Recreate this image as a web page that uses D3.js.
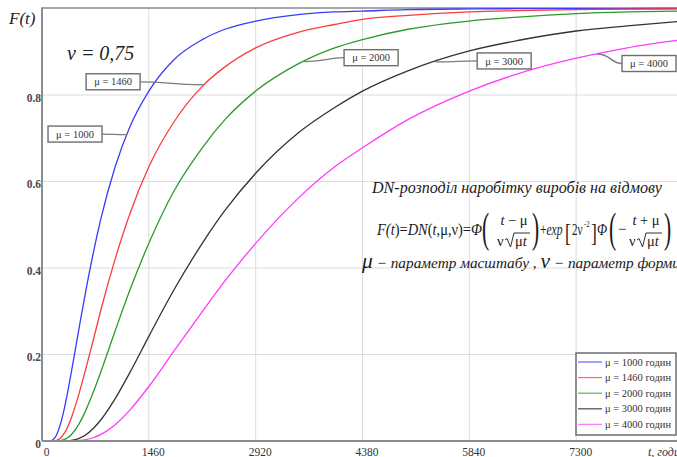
<!DOCTYPE html>
<html><head><meta charset="utf-8">
<script src="https://cdn.jsdelivr.net/npm/d3@7"></script>
<style>
body{margin:0;background:#fff}
svg{display:block}
text{font-family:"Liberation Serif","Times New Roman",serif}
</style>
</head><body>
<svg id="chart" width="677" height="457"></svg>
<script>
// ---- data ----
const hours = [0,100,150,200,250,300,350,400,500,600,700,800,1000,1200,1460,1800,2190,2500,2920,3500,4000,4380,5000,5840,6500,7300,8000,8760];
const muValues = [1000,1460,2000,3000,4000];
const F_mu1000 = [0,0.0001,0.003,0.0146,0.0378,0.0714,0.1125,0.158,0.2547,0.3485,0.434,0.5105,0.634,0.726,0.809,0.881,0.928,0.952,0.971,0.986,0.992,0.994,0.9975,0.999,0.9995,0.9998,0.9999,1.0];
const F_mu1460 = [0,0,0.0002,0.0017,0.0065,0.017,0.032,0.053,0.106,0.168,0.233,0.300,0.421,0.525,0.634,0.737,0.820,0.865,0.909,0.945,0.963,0.975,0.984,0.992,0.995,0.9975,0.9984,0.9992];
const F_mu2000 = [0,0,0,0.0001,0.001,0.003,0.0075,0.0146,0.0378,0.0714,0.1125,0.158,0.2547,0.3485,0.457,0.5768,0.678,0.743,0.809,0.872,0.909,0.928,0.952,0.971,0.980,0.988,0.992,0.994];
const F_mu3000 = [0,0,0,0,0,0.0001,0.0006,0.0015,0.0057,0.0146,0.029,0.048,0.098,0.158,0.242,0.3485,0.457,0.533,0.619,0.712,0.771,0.809,0.856,0.902,0.926,0.948,0.960,0.971];
const F_mu4000 = [0,0,0,0,0,0,0,0.0001,0.001,0.003,0.0075,0.0146,0.0378,0.0714,0.126,0.207,0.299,0.370,0.457,0.561,0.634,0.678,0.743,0.809,0.849,0.885,0.909,0.928];
const legendNames = ["μ = 1000 годин","μ = 1460 годин","μ = 2000 годин","μ = 3000 годин","μ = 4000 годин"];
const labelNames = ["μ = 1000","μ = 1460","μ = 2000","μ = 3000","μ = 4000"];
const labelHours = [1162,2215,3568,5373,7585];
const xTickValues = [0,1460,2920,4380,5840,7300];
const yTickValues = [0,0.2,0.4,0.6,0.8];

// ---- style / layout ----
const colors = ["#3a3aff","#ff3a3a","#2c9a2c","#333333","#ff3aff"];
const legendColors = ["#6f6fff","#ff6f6f","#5cc05c","#555555","#ff7fff"];
const labelOffsets = [[-25,-0.5,"L"],[-64,-3,"L"],[41,-4,"R"],[42,-1,"R"],[25,9.5,"R"]];
const series = [F_mu1000,F_mu1460,F_mu2000,F_mu3000,F_mu4000].map((vals,i)=>({
  mu: muValues[i], color: colors[i],
  points: hours.map((t,j)=>({t, f: vals[j]}))
}));

const svg = d3.select("#chart");
const x = d3.scaleLinear().domain([0,8760]).range([42,683]);
const y = d3.scaleLinear().domain([0,1]).range([441,8.5]);
const pTop = 8, pBottom = 441, pLeft = 42, pRight = 677;

// grid
svg.append("g").selectAll("line").data(xTickValues.slice(1)).join("line")
  .attr("x1",d=>x(d)).attr("x2",d=>x(d)).attr("y1",pTop).attr("y2",pBottom)
  .attr("stroke","#dcdcdc").attr("stroke-width",1);
svg.append("g").selectAll("line").data(yTickValues.slice(1)).join("line")
  .attr("x1",pLeft).attr("x2",pRight).attr("y1",d=>y(d)).attr("y2",d=>y(d))
  .attr("stroke","#dcdcdc").attr("stroke-width",1);

// frame top
svg.append("line").attr("x1",pLeft).attr("x2",pRight).attr("y1",pTop).attr("y2",pTop)
  .attr("stroke","#8a8a8a").attr("stroke-width",1.3);

// clip
svg.append("defs").append("clipPath").attr("id","clip").append("rect")
  .attr("x",pLeft).attr("y",pTop-2).attr("width",pRight-pLeft).attr("height",pBottom-pTop+2);

// curves
const line = d3.line().x(d=>x(d.t)).y(d=>y(d.f)).curve(d3.curveMonotoneX);
svg.append("g").attr("clip-path","url(#clip)").selectAll("path").data(series).join("path")
  .attr("d",d=>line(d.points)).attr("fill","none")
  .attr("stroke",d=>d.color).attr("stroke-width",1.3);

// axes
const xAxis = d3.axisBottom(x).tickValues(xTickValues).tickSize(0).tickPadding(6.5).tickFormat(d3.format("d"));
const gx = svg.append("g").attr("transform",`translate(0,${pBottom})`).call(xAxis);
gx.select(".domain").remove();
gx.selectAll("text").attr("font-family","Liberation Serif, serif").attr("font-size",11.5)
  .attr("fill","#333").attr("dx",4);
const yAxis = d3.axisLeft(y).tickValues(yTickValues).tickSize(0).tickPadding(1).tickFormat(d=>d===0?"0":d3.format(".1f")(d));
const gy = svg.append("g").attr("transform",`translate(${pLeft},0)`).call(yAxis);
gy.select(".domain").remove();
gy.selectAll("text").attr("font-family","Liberation Serif, serif").attr("font-size",11.5)
  .attr("fill","#4a4a4a").attr("font-weight","bold").attr("dy","0.55em");

svg.append("line").attr("x1",pLeft).attr("x2",pRight).attr("y1",pBottom).attr("y2",pBottom)
  .attr("stroke","#8c8c8c").attr("stroke-width",2);
svg.append("line").attr("x1",pLeft).attr("x2",pLeft).attr("y1",pTop-0.6).attr("y2",pBottom)
  .attr("stroke","#8c8c8c").attr("stroke-width",2);

// axis titles
svg.append("text").attr("x",9).attr("y",24).attr("font-size",17).attr("font-style","italic")
  .attr("fill","#222").text("F(t)");
svg.append("text").attr("x",648).attr("y",456).attr("font-size",12).attr("font-style","italic")
  .attr("fill","#333").text("t, годин");
svg.append("text").attr("x",67).attr("y",60).attr("font-size",20).attr("font-style","italic")
  .attr("fill","#222").text("ν = 0,75");

// curve labels
function fAt(s,t){
  const pts = s.points; const i = d3.bisector(d=>d.t).left(pts,t);
  const a = pts[i-1], b = pts[i]; return a.f + (b.f-a.f)*(t-a.t)/(b.t-a.t);
}
const ann = svg.append("g");
labelNames.forEach((name,i)=>{
  const ax = x(labelHours[i]), ay = y(fAt(series[i],labelHours[i]));
  const [dx,dy,side] = labelOffsets[i];
  const bx = ax+dx, by = ay+dy, w = 54, h = 16;
  const mx = bx + (ax-bx)*0.45;
  ann.append("path").attr("d",`M${bx},${by} C${mx},${by} ${mx},${ay} ${ax},${ay}`)
    .attr("fill","none").attr("stroke","#7a7a7a").attr("stroke-width",1.3);
  const rx = side==="L" ? bx-w : bx;
  ann.append("rect").attr("x",rx).attr("y",by-h/2).attr("width",w).attr("height",h)
    .attr("fill","#fff").attr("stroke","#6e6e6e").attr("stroke-width",1.4);
  ann.append("text").attr("x",rx+w/2).attr("y",by+3.6).attr("text-anchor","middle")
    .attr("font-size",10.5).attr("fill","#333").text(name);
});

// formula block
const fb = svg.append("g").attr("fill","#1a1a1a");
fb.append("text").attr("x",372).attr("y",193).attr("font-size",16).attr("font-style","italic")
  .attr("textLength",290).attr("lengthAdjust","spacingAndGlyphs")
  .text("DN-розподіл наробітку виробів на відмову");
const l2 = fb.append("text").attr("transform","translate(377,235) scale(0.85,1)").attr("font-size",17);
[["F(","i"],["t","i"],[")=","n"],["DN","i"],["(","n"],["t","i"],[",μ,ν)=","n"],["Φ","i"]]
  .forEach(([s,st])=>l2.append("tspan").attr("font-style",st==="i"?"italic":"normal").text(s));
function bigParen(xp, ch){
  fb.append("text").attr("transform",`translate(${xp},242) scale(0.5,1)`)
    .attr("font-size",43).attr("font-weight","300").text(ch);
}
function fraction(cx, op){
  const num = fb.append("text").attr("x",cx).attr("y",225).attr("font-size",14.5).attr("text-anchor","middle");
  num.append("tspan").attr("font-style","italic").text("t");
  num.append("tspan").text(" " + op + " μ");
  fb.append("text").attr("x",cx-17).attr("y",246).attr("font-size",14.5).text("ν");
  fb.append("path").attr("d",`M${cx-9},240 L${cx-7},238.5 L${cx-3.5},247 L${cx},233 L${cx+16},233`)
    .attr("fill","none").attr("stroke","#1a1a1a").attr("stroke-width",0.9);
  const den = fb.append("text").attr("x",cx+1).attr("y",246).attr("font-size",14.5);
  den.append("tspan").text("μ");
  den.append("tspan").attr("font-style","italic").text("t");
}
bigParen(482,"(");
fraction(514,"−");
bigParen(532,")");
const l3 = fb.append("text").attr("transform","translate(540,235) scale(0.72,1)").attr("font-size",16);
l3.append("tspan").text("+");
l3.append("tspan").attr("font-style","italic").text("exp");
fb.append("text").attr("transform","translate(565,241) scale(0.7,1)").attr("font-size",25).attr("font-weight","300").text("[");
fb.append("text").attr("transform","translate(572,235) scale(0.69,1)").attr("font-size",16).text("2ν");
fb.append("text").attr("transform","translate(584,227) scale(0.75,1)").attr("font-size",9).text("-2");
fb.append("text").attr("transform","translate(591,241) scale(0.7,1)").attr("font-size",25).attr("font-weight","300").text("]");
fb.append("text").attr("transform","translate(597,235) scale(0.83,1)").attr("font-size",16).attr("font-style","italic").text("Φ");
bigParen(609,"(");
fb.append("text").attr("x",618).attr("y",234).attr("font-size",15).text("−");
fraction(646,"+");
bigParen(664,")");

const l4 = fb.append("text").attr("x",362).attr("y",268).attr("font-style","italic")
  .attr("textLength",318).attr("lengthAdjust","spacingAndGlyphs");
l4.append("tspan").attr("font-size",21).text("μ");
l4.append("tspan").attr("font-size",15).text(" − параметр масштабу , ");
l4.append("tspan").attr("font-size",21).text("ν");
l4.append("tspan").attr("font-size",15).text(" − параметр форми");

// legend
const lg = svg.append("g");
lg.append("rect").attr("x",576).attr("y",353).attr("width",100).attr("height",82)
  .attr("fill","#fff").attr("stroke","#6e6e6e").attr("stroke-width",1.5);
legendNames.forEach((n,i)=>{
  const yy = 362 + i*15.6;
  lg.append("line").attr("x1",578).attr("x2",602).attr("y1",yy).attr("y2",yy)
    .attr("stroke",legendColors[i]).attr("stroke-width",1.3);
  lg.append("text").attr("x",605).attr("y",yy+3.5).attr("font-size",10.5).attr("fill","#333").text(n);
});
</script>
</body></html>
